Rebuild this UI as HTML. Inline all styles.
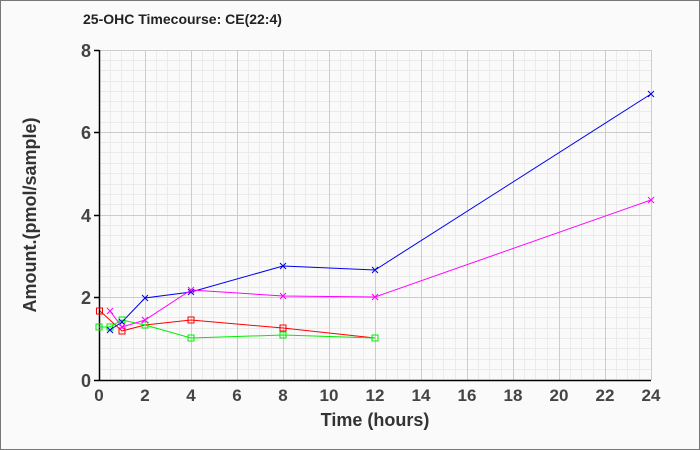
<!DOCTYPE html>
<html><head><style>
html,body{margin:0;padding:0;background:#fafafa}
svg{display:block}
text{font-family:"Liberation Sans",Arial,sans-serif;font-weight:bold}
</style></head><body>
<svg width="700" height="450" xmlns="http://www.w3.org/2000/svg">
<rect x="0.5" y="0.5" width="699" height="449" fill="#fafafa" stroke="#777"/>
<text x="83" y="24" font-size="14" fill="#222">25-OHC Timecourse: CE(22:4)</text>
<g fill="none">
<g stroke="#ebebeb" stroke-width="1">
<path d="M110.5 50V380M133.5 50V380M156.5 50V380M179.5 50V380M202.5 50V380M225.5 50V380M248.5 50V380M271.5 50V380M294.5 50V380M317.5 50V380M340.5 50V380M363.5 50V380M386.5 50V380M409.5 50V380M432.5 50V380M455.5 50V380M478.5 50V380M501.5 50V380M524.5 50V380M547.5 50V380M570.5 50V380M593.5 50V380M616.5 50V380M639.5 50V380"/>
<path d="M99 70.5H651M99 91.5H651M99 111.5H651M99 152.5H651M99 173.5H651M99 194.5H651M99 235.5H651M99 256.5H651M99 276.5H651M99 317.5H651M99 338.5H651M99 359.5H651"/>
<path d="M121.5 50V380M167.5 50V380M213.5 50V380M259.5 50V380M305.5 50V380M351.5 50V380M397.5 50V380M443.5 50V380M489.5 50V380M535.5 50V380M581.5 50V380M627.5 50V380"/>
<path d="M99 60.5H651M99 81.5H651M99 101.5H651M99 122.5H651M99 142.5H651M99 163.5H651M99 184.5H651M99 204.5H651M99 225.5H651M99 245.5H651M99 266.5H651M99 287.5H651M99 307.5H651M99 328.5H651M99 348.5H651M99 369.5H651"/>
</g>
<g stroke="#cccccc" stroke-width="1">
<path d="M145.5 50V380M191.5 50V380M237.5 50V380M283.5 50V380M329.5 50V380M375.5 50V380M421.5 50V380M467.5 50V380M513.5 50V380M559.5 50V380M605.5 50V380M651.5 50V380"/>
<path d="M99 50.5H651M99 132.5H651M99 215.5H651M99 297.5H651"/>
</g>
<g stroke="#000" stroke-width="1.5">
<path d="M99.5 50V380.5H651"/>
<path d="M94 50.5H99M94 132.5H99M94 215.5H99M94 297.5H99M94 380.5H99"/>
</g>
</g>
<g font-size="18" fill="#444" text-anchor="end">
<text x="91" y="57">8</text><text x="91" y="139">6</text><text x="91" y="222">4</text><text x="91" y="304">2</text><text x="91" y="387">0</text>
</g>
<g font-size="17" fill="#444" text-anchor="middle">
<text x="99" y="401">0</text><text x="145" y="401">2</text><text x="191" y="401">4</text><text x="237" y="401">6</text><text x="283" y="401">8</text><text x="329" y="401">10</text><text x="375" y="401">12</text><text x="421" y="401">14</text><text x="467" y="401">16</text><text x="513" y="401">18</text><text x="559" y="401">20</text><text x="605" y="401">22</text><text x="651" y="401">24</text>
</g>
<text x="375" y="426" font-size="18" fill="#333" text-anchor="middle">Time (hours)</text>
<text transform="translate(36 215) rotate(-90)" font-size="18" fill="#333" text-anchor="middle">Amount.(pmol/sample)</text>
<g fill="none" stroke-width="1">
<polyline stroke="#ff0000" points="100,311 122,331 145,325 191,320 283,328 375,338"/>
<polyline stroke="#00ee00" points="99,327 110,327 122,320 145,325 191,338 283,335 375,338"/>
<polyline stroke="#0000ee" points="110,330 122,322 145,298 191,292 283,266 375,270 651,94"/>
<polyline stroke="#ff00ff" points="110,311 122,327 145,320 191,290 283,296 375,297 651,200"/>
</g>
<g fill="none" stroke-width="1">
<g stroke="#ff0000">
<rect x="96.5" y="308" width="6" height="6"/><rect x="119" y="328" width="6" height="6"/><rect x="142" y="322" width="6" height="6"/><rect x="188" y="317" width="6" height="6"/><rect x="280" y="325" width="6" height="6"/><rect x="372" y="335" width="6" height="6"/>
</g>
<g stroke="#00ee00">
<rect x="96" y="324" width="6" height="6"/><rect x="107" y="324" width="6" height="6"/><rect x="119" y="317" width="6" height="6"/><rect x="142" y="322" width="6" height="6"/><rect x="188" y="335" width="6" height="6"/><rect x="280" y="332" width="6" height="6"/><rect x="372" y="335" width="6" height="6"/>
</g>
<path stroke="#0000ee" d="M107 327l6 6m0-6l-6 6M119 319l6 6m0-6l-6 6M142 295l6 6m0-6l-6 6M188 289l6 6m0-6l-6 6M280 263l6 6m0-6l-6 6M372 267l6 6m0-6l-6 6M648 91l6 6m0-6l-6 6"/>
<path stroke="#ff00ff" d="M107 308l6 6m0-6l-6 6M119 324l6 6m0-6l-6 6M142 317l6 6m0-6l-6 6M188 287l6 6m0-6l-6 6M280 293l6 6m0-6l-6 6M372 294l6 6m0-6l-6 6M648 197l6 6m0-6l-6 6"/>
</g>
</svg>
</body></html>
